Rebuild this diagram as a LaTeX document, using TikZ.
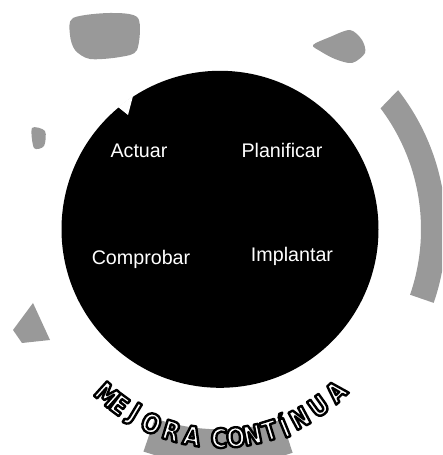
\documentclass[tikz,border=0pt]{standalone}
\usepackage{fontspec}
\setmainfont{Liberation Sans}
\newfontfamily\ringfont[FakeStretch=0.85]{DejaVu Sans}
% letras blancas con borde negro
\newcommand\outl[1]{\special{pdf:literal direct 2 Tr 1.7 w 1 j 0 G}#1\special{pdf:literal direct 0 Tr}}

\begin{document}
\begin{tikzpicture}[x=0.025cm,y=0.025cm,
  phase/.style={text=white,font=\fontsize{14}{16}\selectfont,anchor=base},
  blob/.style={fill=black!40},
  ringletter/.style={inner sep=0pt,text=white,font=\ringfont\bfseries\fontsize{19}{21}\selectfont}]
\useasboundingbox (0,0) rectangle (442,455);
\coordinate (c) at (220,225.7);
\coordinate (t) at (220,185);
% Manchas grises
\begin{scope}
\clip (0,0) rectangle (442,455);
\fill[blob] plot[smooth cycle] coordinates {(73,437) (110,442) (138,437) (137,405) (120,398) (90,396) (75,405) (70,420)};
\fill[blob] plot[smooth cycle] coordinates {(313,410) (330,418) (350,425) (362,415) (365,402) (352,392) (335,396) (320,404)};
\fill[blob] plot[smooth cycle] coordinates {(32,327) (45,324) (44,309) (34,307)};
\fill[blob] (33,152) -- (13,125) -- (22,112) -- (50,115) -- cycle;
\fill[blob] ([shift={(-19:201)}]c) arc[start angle=-19,end angle=37,radius=201]
  -- ([shift={(38:226)}]c) arc[start angle=38,end angle=-19,radius=226] -- cycle;
\fill[blob] ([shift={(251:200)}]c) arc[start angle=251,end angle=288,radius=200]
  -- ([shift={(288:235)}]c) arc[start angle=288,end angle=251,radius=235] -- cycle;
\end{scope}
% Circulo
\fill (c) circle[radius=158.5];
\fill[white] (118,348) -- (128,340) -- (133,359) -- cycle;
% Fases
\node[phase] (actuar) at (139,297) {Actuar};
\node[phase] (planificar) at (282,297) {Planificar};
\node[phase] (comprobar) at (141,190) {Comprobar};
\node[phase] (implantar) at (292,193) {Implantar};
% Mejora continua
\foreach \ch/\ang [count=\i] in {M/227.9,E/233.3,J/239.1,O/245.9,R/253.2,A/260.4,C/269.7,O/275.4,N/281.1,T/287.2,Í/292.3,N/298.3,U/305.9,A/313.6}
  \node[ringletter,rotate=\ang+90] (letra\i) at ([shift={(\ang:168)}]t) {\outl{\ch}};
\end{tikzpicture}
\end{document}
